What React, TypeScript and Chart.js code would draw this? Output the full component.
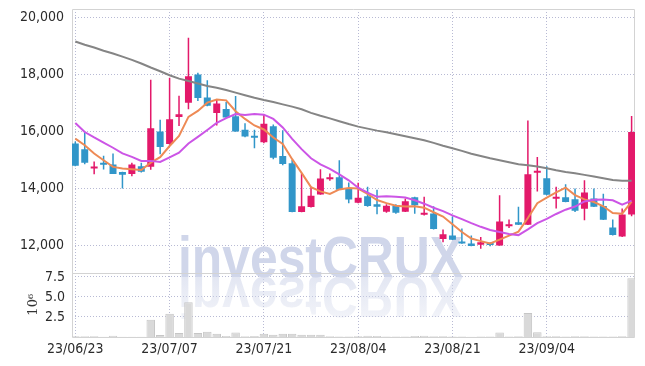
import React, { useEffect, useRef } from 'react';
import { Chart, registerables } from 'chart.js';

Chart.register(...registerables);

const dates = [
  '23/06/23', '23/06/26', '23/06/27', '23/06/28', '23/06/29', '23/06/30',
  '23/07/03', '23/07/04', '23/07/05', '23/07/06', '23/07/07',
  '23/07/10', '23/07/11', '23/07/12', '23/07/13', '23/07/14',
  '23/07/17', '23/07/18', '23/07/19', '23/07/20', '23/07/21',
  '23/07/24', '23/07/25', '23/07/26', '23/07/27', '23/07/28',
  '23/07/31', '23/08/01', '23/08/02', '23/08/03', '23/08/04',
  '23/08/07', '23/08/08', '23/08/09', '23/08/10', '23/08/11',
  '23/08/14', '23/08/16', '23/08/17', '23/08/18', '23/08/21',
  '23/08/22', '23/08/23', '23/08/24', '23/08/25',
  '23/08/28', '23/08/29', '23/08/30', '23/08/31', '23/09/01',
  '23/09/04', '23/09/05', '23/09/06', '23/09/07', '23/09/08',
  '23/09/11', '23/09/12', '23/09/13', '23/09/14', '23/09/15',
];

const opens = [
  15580, 15380, 14700, 14860, 14840, 14580, 14510, 14780, 14760, 16000,
  15560, 16510, 17010, 18000, 17190, 16650, 16790, 16530, 16060, 15800,
  15620, 16180, 15140, 14890, 13180, 13350, 13790, 14330, 14400, 14000,
  13500, 13730, 13450, 13190, 13400, 13190, 13700, 13080, 13130, 12230,
  12360, 12120, 12080, 12030, 12080, 12010, 12680, 12820, 12730, 14550,
  14360, 13640, 13700, 13630, 13290, 13650, 13390, 12640, 12320, 13090,
];
const highs = [
  15650, 16000, 14950, 15150, 15230, 14590, 14900, 14900, 17810, 16410,
  17880, 17250, 19280, 18060, 17790, 17120, 17035, 17240, 16290, 16060,
  16590, 16240, 16040, 15000, 14530, 14060, 14680, 14530, 14990, 14210,
  14200, 14060, 13960, 13450, 13450, 13650, 13710, 13710, 13380, 12570,
  13020, 12600, 12360, 12300, 12120, 13770, 12920, 13360, 16380, 15110,
  14780, 14060, 14150, 14000, 14290, 14000, 13820, 12920, 13300, 16540,
];
const lows = [
  14780, 14850, 14500, 14670, 14510, 14000, 14430, 14560, 14660, 15200,
  15540, 16190, 16780, 17070, 16880, 16210, 16480, 15990, 15800, 15410,
  15590, 15030, 14820, 13170, 13170, 13340, 13780, 14270, 13950, 13490,
  13490, 13360, 13100, 13150, 13120, 13180, 13120, 13060, 12570, 12120,
  12200, 12070, 11980, 11890, 11980, 12000, 12620, 12720, 12720, 13900,
  13770, 13300, 13520, 13180, 12890, 13350, 12900, 12360, 12300, 13030,
];
const closes = [
  14800, 14900, 14760, 14830, 14510, 14480, 14840, 14590, 16110, 15460,
  16430, 16600, 17930, 17170, 16900, 16980, 16490, 16000, 15820, 15780,
  16270, 15080, 14860, 13180, 13380, 13750, 14350, 14400, 13960, 13620,
  13680, 13390, 13360, 13400, 13150, 13560, 13420, 13120, 12580, 12400,
  12210, 12080, 11990, 12120, 12020, 12850, 12750, 12730, 14500, 14620,
  13780, 13700, 13530, 13220, 13860, 13360, 12910, 12370, 13090, 15980,
];

const ma5 = [
  15750, 15520, 15230, 14990, 14760, 14700, 14680, 14650, 14910, 15100,
  15490, 15840, 16510, 16720, 17010, 17120, 17090, 16710, 16440, 16210,
  16070, 15790, 15560, 15030, 14550, 14050, 13900, 13810, 13970, 14020,
  14000, 13810, 13600, 13490, 13400, 13370, 13380, 13330, 13170, 13020,
  12750, 12480, 12250, 12160, 12080, 12210, 12350, 12490, 12970, 13490,
  13680, 13870, 14030, 13770, 13620, 13530, 13380, 13140, 13120, 13540,
];
const ma10 = [
  16300, 15980, 15790, 15610, 15430, 15230, 15110, 14970, 14970, 14930,
  15090, 15260, 15580, 15810, 16050, 16300, 16470, 16610, 16580, 16610,
  16590, 16440, 16140, 15740, 15380, 15060, 14850, 14690, 14500, 14290,
  14030, 13860, 13710, 13730, 13710, 13690, 13590, 13470, 13330, 13210,
  13060, 12930, 12790, 12660, 12550, 12480, 12410, 12370, 12570, 12790,
  12940, 13110, 13260, 13370, 13550, 13610, 13620, 13590, 13440, 13580,
];
const maLong = [
  19150, 19040, 18940, 18830, 18730, 18620, 18510, 18380, 18240, 18110,
  17970, 17850, 17770, 17680, 17590, 17530, 17450, 17360, 17270, 17180,
  17100, 17030, 16950, 16870, 16780, 16650, 16550, 16460, 16360, 16260,
  16170, 16100, 16030, 15970, 15900, 15830, 15760, 15690, 15600, 15500,
  15410, 15320, 15220, 15140, 15060, 14990, 14920, 14850, 14820, 14770,
  14710, 14640, 14580, 14540, 14480, 14420, 14360, 14300, 14270, 14270,
];

// volume in millions
const volumes = [
  0.08, 0.1, 0.08, 0.03, 0.15, 0.02, 0.02, 0.03, 2.15, 0.25,
  2.9, 0.5, 4.35, 0.5, 0.65, 0.42, 0.12, 0.55, 0.1, 0.12,
  0.42, 0.27, 0.42, 0.42, 0.27, 0.27, 0.27, 0.1, 0.05, 0.05,
  0.08, 0.15, 0.12, 0.05, 0.05, 0.05, 0.12, 0.15, 0.1, 0.08,
  0.05, 0.05, 0.03, 0.05, 0.05, 0.55, 0.05, 0.1, 3.0, 0.6,
  0.1, 0.08, 0.05, 0.08, 0.1, 0.05, 0.05, 0.05, 0.08, 7.35,
];

const xTickIndexes = [0, 10, 20, 30, 40, 50];
const priceTicks = [12000, 14000, 16000, 18000, 20000];
const volumeTicks = [2.5, 5.0, 7.5];

const TICK_FONT = "'DejaVu Sans Condensed', 'DejaVu Sans', sans-serif";
const UP = '#e3196a';
const DOWN = '#3196c9';
const GRID = 'rgba(180,182,210,0.95)';
const FRAME = '#d3d3d3';

const framePlugin = {
  id: 'frameAndWatermark',
  beforeDatasetsDraw(chart: any) {
    const { ctx, chartArea: a, scales } = chart;
    ctx.save();
    // watermark
    const text = 'investCRUX';
    ctx.font = "bold 58px 'Liberation Sans', 'DejaVu Sans', sans-serif";
    const w = ctx.measureText(text).width;
    const sx = 285 / w;
    ctx.save();
    ctx.translate(320.5, 277);
    ctx.scale(sx, 1);
    ctx.textAlign = 'center';
    ctx.textBaseline = 'alphabetic';
    ctx.fillStyle = 'rgb(208,214,234)';
    ctx.fillText(text, 0, 0);
    ctx.scale(1, -1);
    const g = ctx.createLinearGradient(0, 0, 0, -45);
    g.addColorStop(0, 'rgba(208,214,234,0.6)');
    g.addColorStop(1, 'rgba(208,214,234,0.25)');
    ctx.fillStyle = g;
    ctx.fillText(text, 0, 0);
    ctx.restore();

    // frames
    ctx.strokeStyle = FRAME;
    ctx.lineWidth = 1;
    const l = Math.round(a.left) + 0.5;
    const r = Math.round(a.right) - 0.5;
    for (const id of ['y', 'v']) {
      const s = scales[id];
      const t = Math.round(s.top) + 0.5;
      const b = Math.round(s.bottom) + 0.5;
      ctx.beginPath();
      ctx.moveTo(l, t);
      ctx.lineTo(r, t);
      ctx.lineTo(r, b);
      ctx.lineTo(l, b);
      ctx.closePath();
      ctx.stroke();
    }
    ctx.restore();
  },
};

export default function App() {
  const ref = useRef<HTMLCanvasElement>(null);

  useEffect(() => {
    const canvas = ref.current!;
    const colors = closes.map((c, i) => (c >= opens[i] ? UP : DOWN));
    const line = (label: string, values: number[], color: string) => ({
      type: 'line' as const,
      label,
      data: values.map((v, i) => ({ x: i, y: v })),
      borderColor: color,
      borderWidth: 2,
      pointRadius: 0,
      tension: 0,
      yAxisID: 'y',
      order: 0,
    });

    const chart = new Chart(canvas, {
      type: 'bar',
      data: {
        datasets: [
          line('MA120', maLong, '#858585'),
          line('MA10', ma10, '#cc55e6'),
          line('MA5', ma5, '#ee8a55'),
          {
            type: 'bar',
            label: 'body',
            data: opens.map((o, i) => ({ x: i, y: [o, closes[i]] })),
            backgroundColor: colors,
            borderColor: 'rgba(255,255,255,0.55)',
            borderWidth: 0,
            minBarLength: 2,
            grouped: false,
            categoryPercentage: 1,
            barPercentage: 0.74,
            yAxisID: 'y',
            order: 2,
          },
          {
            type: 'bar',
            label: 'wick',
            data: lows.map((lo, i) => ({ x: i, y: [lo, highs[i]] })),
            backgroundColor: colors,
            borderWidth: 0,
            grouped: false,
            categoryPercentage: 1,
            barPercentage: 0.16,
            yAxisID: 'y',
            order: 3,
          },
          {
            type: 'bar',
            label: 'volume',
            data: volumes.map((v, i) => ({ x: i, y: v })),
            backgroundColor: '#d9d9d9',
            borderColor: '#c6c6c6',
            borderWidth: 1,
            grouped: false,
            categoryPercentage: 1,
            barPercentage: 0.9,
            yAxisID: 'v',
            order: 4,
          },
        ] as any,
      },
      options: {
        responsive: false,
        animation: false,
        layout: { padding: { top: 9, right: 10, left: 0, bottom: 0 } },
        plugins: { legend: { display: false }, tooltip: { enabled: false } },
        scales: {
          x: {
            type: 'linear',
            min: -0.35,
            max: 59.36,
            offset: false,
            grid: { color: GRID, lineWidth: 1, drawTicks: false, offset: false },
            border: { display: false, dash: [1, 2] },
            afterBuildTicks: (s: any) => {
              s.ticks = xTickIndexes.map((v) => ({ value: v }));
            },
            afterFit: (s: any) => {
              s.height = 29;
              s.paddingLeft = 0;
              s.paddingRight = 0;
            },
            ticks: {
              padding: 4,
              maxRotation: 0,
              autoSkip: false,
              color: '#2b2b2b',
              font: { family: TICK_FONT, size: 14 },
              callback: (v: any) => dates[v as number] ?? '',
            },
          },
          y: {
            type: 'linear',
            position: 'left',
            stack: 'panels',
            stackWeight: 263.5,
            weight: 2,
            min: 11060,
            max: 20290,
            grid: { color: GRID, lineWidth: 1, drawTicks: false },
            border: { display: false, dash: [1, 2] },
            afterBuildTicks: (s: any) => {
              s.ticks = priceTicks.map((v) => ({ value: v }));
            },
            afterFit: (s: any) => {
              s.width = 72;
              s.paddingTop = 0;
              s.paddingBottom = 0;
            },
            ticks: {
              padding: 8,
              autoSkip: false,
              color: '#2b2b2b',
              font: { family: TICK_FONT, size: 14 },
              callback: (v: any) => Number(v).toLocaleString('en-US'),
            },
          },
          v: {
            type: 'linear',
            position: 'left',
            stack: 'panels',
            stackWeight: 64.5,
            weight: 1,
            min: 0,
            max: 8.06,
            grid: { color: GRID, lineWidth: 1, drawTicks: false },
            border: { display: false, dash: [1, 2] },
            afterBuildTicks: (s: any) => {
              s.ticks = volumeTicks.map((v) => ({ value: v }));
            },
            afterFit: (s: any) => {
              s.width = 72;
              s.paddingTop = 0;
              s.paddingBottom = 0;
            },
            title: {
              display: true,
              text: '10⁶',
              color: '#333',
              font: { family: "'DejaVu Serif', serif", size: 13 },
              padding: { top: 26, bottom: 0 },
            },
            ticks: {
              padding: 7,
              autoSkip: false,
              color: '#2b2b2b',
              font: { family: TICK_FONT, size: 14 },
              callback: (v: any) => Number(v).toFixed(1),
            },
          },
        },
      } as any,
      plugins: [framePlugin],
    });
    return () => chart.destroy();
  }, []);

  return (
    <div style={{ position: 'absolute', left: 0, top: 0, width: 645, height: 366, background: '#fff' }}>
      <canvas ref={ref} width={645} height={366} style={{ display: 'block' }} />
    </div>
  );
}
